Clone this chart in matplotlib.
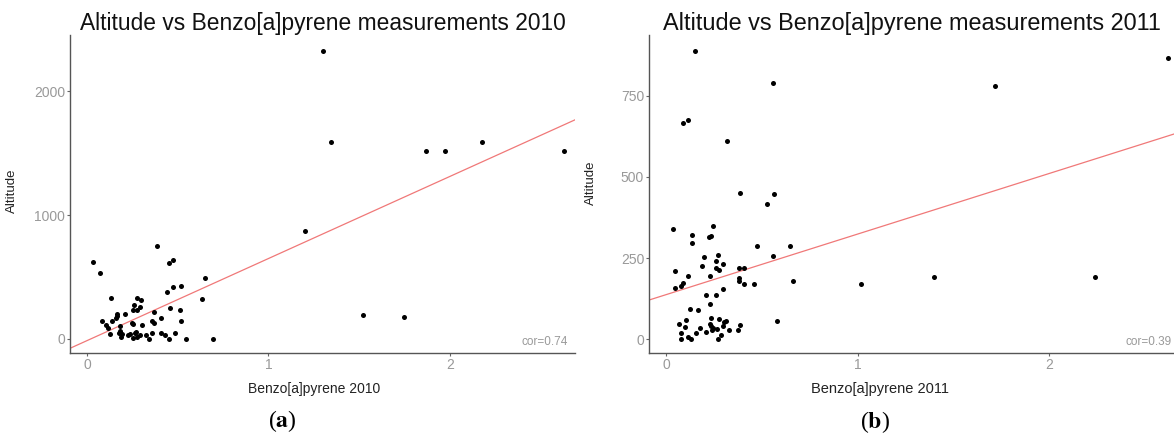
import numpy as np
import matplotlib
matplotlib.use("Agg")
import matplotlib.pyplot as plt

plt.rcParams['font.family'] = ['Liberation Sans', 'DejaVu Sans']
plt.rcParams['mathtext.fontset'] = 'stix'

# 2010 measurements (Benzo[a]pyrene, Altitude)
bap_2010 = [1.30, 1.347, 1.869, 1.971, 2.177, 2.629, 1.203, 1.519, 1.746,
            0.033, 0.073, 0.383, 0.452, 0.472, 0.649, 0.635, 0.518, 0.472,
            0.439, 0.695, 0.545, 0.133, 0.273, 0.300, 0.260, 0.291, 0.254,
            0.273, 0.368, 0.458, 0.512, 0.518, 0.410, 0.358, 0.370, 0.304,
            0.208, 0.166, 0.166, 0.162, 0.137, 0.081, 0.102, 0.114, 0.125,
            0.179, 0.183, 0.175, 0.187, 0.194, 0.225, 0.246, 0.254, 0.262,
            0.256, 0.271, 0.277, 0.291, 0.325, 0.341, 0.356, 0.405, 0.431,
            0.452, 0.487, 0.235]
alt_2010 = [2322, 1592, 1519, 1519, 1592, 1519, 870, 193, 177,
            623, 534, 749, 615, 634, 491, 322, 430, 416,
            381, 0, 0, 333, 333, 314, 271, 255, 236,
            236, 220, 247, 236, 148, 166, 148, 129, 113,
            204, 204, 185, 166, 148, 148, 113, 86, 40,
            105, 67, 51, 19, 40, 32, 132, 121, 46,
            8, 59, 19, 32, 32, 0, 46, 46, 32,
            0, 46, 40]

# 2011 measurements
bap_2011 = [0.150, 0.558, 1.718, 2.619, 0.089, 0.117, 0.317, 0.387, 0.564,
            0.529, 0.035, 0.247, 0.134, 0.134, 0.226, 0.235, 0.477, 0.648,
            0.558, 0.200, 0.270, 0.261, 0.298, 0.189, 0.047, 0.261, 0.276,
            0.379, 0.407, 0.117, 0.228, 1.397, 2.239, 0.379, 0.379, 0.660,
            0.405, 0.459, 1.019, 0.089, 0.078, 0.047, 0.298, 0.206, 0.261,
            0.228, 0.126, 0.169, 0.237, 0.276, 0.105, 0.578, 0.066, 0.230,
            0.304, 0.315, 0.387, 0.097, 0.179, 0.235, 0.245, 0.265, 0.296,
            0.327, 0.375, 0.206, 0.158, 0.078, 0.078, 0.115, 0.130, 0.270,
            0.286, 0.241]
alt_2011 = [890, 790, 782, 868, 667, 677, 612, 450, 448,
            418, 340, 348, 321, 297, 315, 317, 288, 286,
            255, 253, 259, 241, 232, 226, 211, 218, 213,
            220, 220, 195, 193, 191, 191, 189, 178, 179,
            169, 169, 171, 174, 164, 158, 153, 135, 137,
            108, 93, 91, 65, 61, 59, 57, 47, 48,
            52, 55, 44, 38, 33, 41, 35, 31, 39,
            29, 27, 23, 20, 20, 1, 5, 1, 1,
            13, 28]

# fitted lines (intercept, slope)
fit_2010 = (-13, 662)
fit_2011 = (137, 187)
cor_2010 = "cor=0.74"
cor_2011 = "cor=0.39"

fig = plt.figure(figsize=(11.74, 4.34), dpi=100)
ax1 = fig.add_axes([70/1174, 81/434, 505/1174, 318/434])
ax2 = fig.add_axes([649/1174, 81/434, 525/1174, 318/434])

panels = [
    (ax1, bap_2010, alt_2010, fit_2010, cor_2010, "2010", (-0.094, 2.69), (-113, 2452), [0, 1000, 2000], 16.4, 10, (-0.103, 0.509), (0.483, -0.091)),
    (ax2, bap_2011, alt_2011, fit_2011, cor_2011, "2011", (-0.089, 2.65), (-43, 938), [0, 250, 500, 750], 16.9, 10.5, (-0.099, 0.535), (0.44, -0.091)),
]

for ax, xs, ys, fit, cor, yr, xl, yl, yt, tsize, lsize, ylab_pos, xlab_pos in panels:
    ax.scatter(xs, ys, s=13, color='black', linewidths=0, zorder=3)
    xx = np.array(xl)
    ax.plot(xx, fit[0] + fit[1]*xx, color='#f07878', lw=0.9, zorder=2)
    ax.set_xlim(xl)
    ax.set_ylim(yl)
    ax.set_xticks([0, 1, 2])
    ax.set_yticks(yt)
    for s in ['top', 'right']:
        ax.spines[s].set_visible(False)
    for s in ['left', 'bottom']:
        ax.spines[s].set_color('#555555')
        ax.spines[s].set_linewidth(1.0)
    ax.tick_params(length=2.5, width=0.8, color='#666666', labelcolor='#999999',
                   labelsize=10, pad=1)
    ax.set_title("Altitude vs Benzo[a]pyrene measurements " + yr, fontsize=tsize,
                 color='#111111', pad=1)
    ax.set_ylabel("Altitude", fontsize=9.5, color='#222222')
    ax.yaxis.set_label_coords(*ylab_pos)
    ax.set_xlabel("Benzo[a]pyrene " + yr, fontsize=lsize, color='#222222')
    ax.xaxis.set_label_coords(*xlab_pos)
    ax.text(0.985 if yr == "2010" else 0.996, 0.036, cor, transform=ax.transAxes,
            ha='right', va='center', fontsize=8.5, color='#999999')

fig.text(282/1174, 1 - 421/434, r"($\mathbf{a}$)", ha='center', va='center',
         fontsize=17, family='Liberation Serif')
fig.text(875/1174, 1 - 422/434, r"($\mathbf{b}$)", ha='center', va='center',
         fontsize=17, family='Liberation Serif')

fig.savefig("out.png", dpi=100)
